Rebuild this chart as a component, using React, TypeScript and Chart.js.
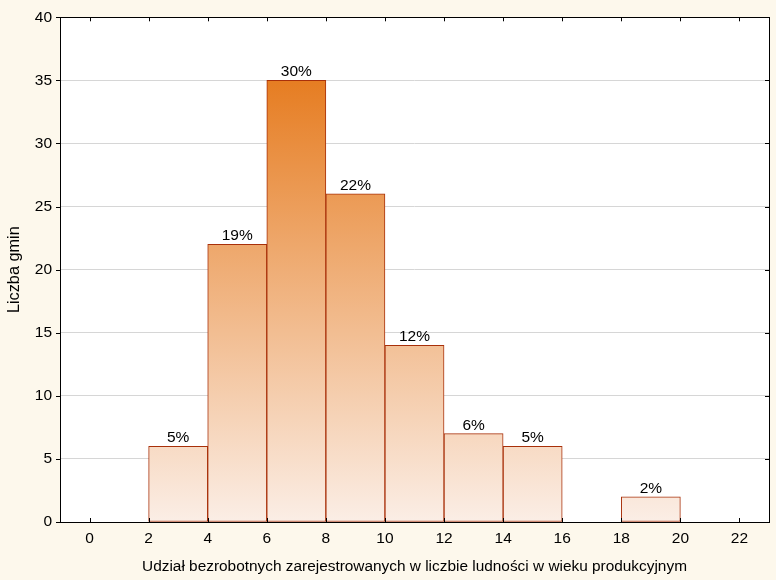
import React, { useEffect, useRef } from 'react';
import { Chart, registerables } from 'chart.js';

Chart.register(...registerables);

const binStarts = [2, 4, 6, 8, 10, 12, 14, 18];
const binEnds = [4, 6, 8, 10, 12, 14, 16, 20];
const counts = [6, 22, 35, 26, 14, 7, 6, 2];
const percentLabels = ['5%', '19%', '30%', '22%', '12%', '6%', '5%', '2%'];
const xTickValues = [0, 2, 4, 6, 8, 10, 12, 14, 16, 18, 20, 22];
const xTitle = 'Udział bezrobotnych zarejestrowanych w liczbie ludności w wieku produkcyjnym';
const yTitle = 'Liczba gmin';

const FONT = 'Arial, "Liberation Sans", sans-serif';

export default function App() {
  const ref = useRef<HTMLCanvasElement>(null);

  useEffect(() => {
    const canvas = ref.current!;
    const framePlugin = {
      id: 'frame',
      beforeDraw(chart: any) {
        const { ctx, chartArea: a } = chart;
        ctx.save();
        ctx.fillStyle = '#FDF8EC';
        ctx.fillRect(0, 0, chart.width, chart.height);
        ctx.fillStyle = '#FFFFFF';
        ctx.fillRect(a.left, a.top, a.right - a.left, a.bottom - a.top);
        ctx.restore();
      },
      afterDraw(chart: any) {
        const { ctx, chartArea: a, scales } = chart;
        ctx.save();
        ctx.strokeStyle = '#000';
        ctx.lineWidth = 1;
        ctx.beginPath();
        scales.y.ticks.forEach((t: any) => {
          const y = Math.round(scales.y.getPixelForValue(t.value)) + 0.5;
          ctx.moveTo(a.left - 4, y);
          ctx.lineTo(a.left, y);
          ctx.moveTo(a.right - 4, y);
          ctx.lineTo(a.right, y);
        });
        scales.x.ticks.forEach((t: any) => {
          const x = Math.round(scales.x.getPixelForValue(t.value)) + 0.5;
          ctx.moveTo(x, a.top);
          ctx.lineTo(x, a.top + 4);
          ctx.moveTo(x, a.bottom);
          ctx.lineTo(x, a.bottom - 4);
        });
        ctx.stroke();
        ctx.strokeRect(Math.round(a.left) + 0.5, Math.round(a.top) + 0.5, Math.round(a.right - a.left), Math.round(a.bottom - a.top));
        ctx.restore();
      },
      afterDatasetsDraw(chart: any) {
        const { ctx } = chart;
        const meta = chart.getDatasetMeta(0);
        ctx.save();
        ctx.font = `15.5px ${FONT}`;
        ctx.fillStyle = '#000';
        ctx.textAlign = 'center';
        ctx.textBaseline = 'bottom';
        meta.data.forEach((el: any, i: number) => {
          ctx.fillText(percentLabels[i], el.x, el.y - 0.5);
        });
        ctx.restore();
      },
    };

    const chart = new Chart(canvas, {
      type: 'bar',
      data: {
        datasets: [
          {
            data: counts.map((c, i) => ({ x: (binStarts[i] + binEnds[i]) / 2, y: c })),
            backgroundColor: (ctx: any) => {
              const ch = ctx.chart;
              const area = ch.chartArea;
              if (!area) return '#F0B080';
              const ys = ch.scales.y;
              const y0 = ys.getPixelForValue(0);
              const y40 = ys.getPixelForValue(40);
              const g = ch.ctx.createLinearGradient(0, y0, 0, y40);
              g.addColorStop(0, '#FBEEE6');
              g.addColorStop(35 / 40, '#E67D22');
              g.addColorStop(1, '#E67D22');
              return g;
            },
            borderColor: '#A8300A',
            borderWidth: 1,
            borderSkipped: false,
            barPercentage: 1,
            categoryPercentage: 1,
          },
        ],
      },
      options: {
        responsive: false,
        animation: false,
        events: [],
        layout: { padding: { top: 14, right: 7, left: 0, bottom: 0 } },
        plugins: { legend: { display: false }, tooltip: { enabled: false } },
        scales: {
          x: {
            type: 'linear',
            min: -1,
            max: 23,
            offset: false,
            grid: { display: false, drawTicks: false, offset: false },
            border: { display: false },
            afterBuildTicks: (s: any) => {
              s.ticks = xTickValues.map((v) => ({ value: v }));
            },
            ticks: {
              padding: 7,
              color: '#000',
              font: { family: FONT, size: 15.5 },
              maxRotation: 0,
              autoSkip: false,
            },
            title: {
              display: true,
              text: xTitle,
              color: '#000',
              font: { family: FONT, size: 15.4 },
              padding: { top: 0, bottom: 4 },
            },
            afterFit: (s: any) => {
              s.height = 58;
            },
          },
          y: {
            min: 0,
            max: 40,
            grid: { color: '#D6D6D6', drawTicks: false },
            border: { display: false },
            ticks: {
              stepSize: 5,
              padding: 8,
              color: '#000',
              font: { family: FONT, size: 15.5 },
            },
            title: {
              display: true,
              text: yTitle,
              color: '#000',
              font: { family: FONT, size: 16.3 },
              padding: { top: 5, bottom: 0 },
            },
            afterFit: (s: any) => {
              s.width = 60;
            },
          },
        },
      },
      plugins: [framePlugin],
    } as any);
    return () => chart.destroy();
  }, []);

  return (
    <div style={{ position: 'absolute', left: 0, top: 0, width: 776, height: 580, background: '#FDF8EC' }}>
      <canvas ref={ref} width={776} height={580} style={{ display: 'block' }} />
    </div>
  );
}
